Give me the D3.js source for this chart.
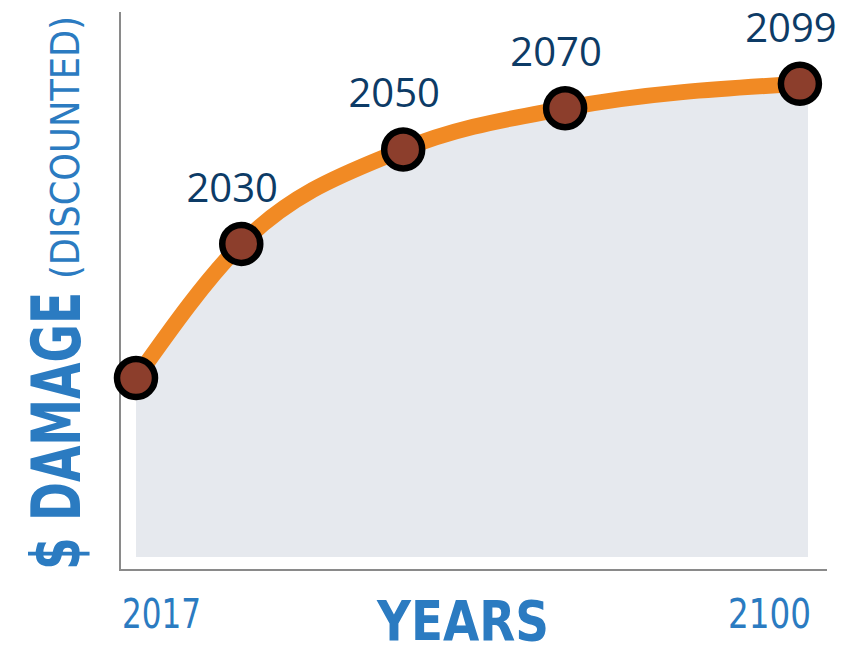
<!DOCTYPE html>
<html>
<head>
<meta charset="utf-8">
<script src="https://cdn.jsdelivr.net/npm/d3@7"></script>
<style>
  html, body { margin: 0; padding: 0; background: #ffffff; }
  svg { display: block; }
</style>
</head>
<body>
<svg id="chart" width="859" height="654"></svg>
<script>
// Milestone years and relative discounted damage (index units)
const years = [2017, 2030, 2050, 2070, 2099];
const damage = [36, 63, 82, 90.3, 95.2];
const labelledYears = ["2030", "2050", "2070", "2099"];
const xTickLabels = ["2017", "2100"];
const xDomain = [2017, 2100];

const svg = d3.select("#chart");

const x = d3.scaleLinear().domain(xDomain).range([136, 808]);
const y = d3.scaleLinear().domain([0, 100]).range([557, 60]);

const points = years.map((yr, i) => ({ year: yr, value: damage[i] }));

// Shaded area under the curve, carried flat to the end of the range
const areaPts = points.concat([{ year: xDomain[1], value: damage[damage.length - 1] }]);
const area = d3.area()
  .x(d => x(d.year))
  .y0(y(0))
  .y1(d => y(d.value))
  .curve(d3.curveMonotoneX);

svg.append("path")
  .datum(areaPts)
  .attr("d", area)
  .attr("fill", "#e6e9ee");

// Axis lines
svg.append("line")
  .attr("x1", 120).attr("x2", 120)
  .attr("y1", 12).attr("y2", 571)
  .attr("stroke", "#8a8a8a").attr("stroke-width", 2);
svg.append("line")
  .attr("x1", 119).attr("x2", 827)
  .attr("y1", 570).attr("y2", 570)
  .attr("stroke", "#8a8a8a").attr("stroke-width", 2);

// Damage curve
const line = d3.line()
  .x(d => x(d.year))
  .y(d => y(d.value))
  .curve(d3.curveMonotoneX);

svg.append("path")
  .datum(points)
  .attr("d", line)
  .attr("fill", "none")
  .attr("stroke", "#f18a24")
  .attr("stroke-width", 16)
  .attr("stroke-linecap", "round");

// Markers
svg.selectAll("circle.pt")
  .data(points)
  .join("circle")
  .attr("class", "pt")
  .attr("cx", d => x(d.year))
  .attr("cy", d => y(d.value))
  .attr("r", 19)
  .attr("fill", "#8c3e2c")
  .attr("stroke", "#000000")
  .attr("stroke-width", 6.5);

// Year labels above the later markers
svg.selectAll("text.yr")
  .data(points.slice(1).map((p, i) => ({ ...p, label: labelledYears[i] })))
  .join("text")
  .attr("class", "yr")
  .attr("x", d => x(d.year) - 9)
  .attr("y", d => y(d.value) - 42)
  .attr("text-anchor", "middle")
  .attr("font-family", "'Open Sans', sans-serif")
  .attr("font-size", 40)
  .attr("fill", "#0d3b66")
  .text(d => d.label);

const blue = "#2b7bc1";
const narrow = "'DejaVu Sans Condensed', 'Liberation Sans Narrow', 'Liberation Sans', sans-serif";

// X-axis end labels and title
svg.append("text")
  .attr("x", 122).attr("y", 628)
  .attr("font-family", narrow).attr("font-size", 40)
  .attr("fill", blue)
  .attr("textLength", 79).attr("lengthAdjust", "spacingAndGlyphs")
  .text(xTickLabels[0]);
svg.append("text")
  .attr("x", 728).attr("y", 628)
  .attr("font-family", narrow).attr("font-size", 40)
  .attr("fill", blue)
  .attr("textLength", 83).attr("lengthAdjust", "spacingAndGlyphs")
  .text(xTickLabels[1]);
svg.append("text")
  .attr("x", 377).attr("y", 640)
  .attr("font-family", narrow).attr("font-size", 56).attr("font-weight", "bold")
  .attr("fill", blue)
  .attr("textLength", 172).attr("lengthAdjust", "spacingAndGlyphs")
  .text("YEARS");

// Y-axis title
svg.append("text")
  .attr("transform", "translate(80,570) rotate(-90)")
  .attr("font-family", narrow).attr("font-size", 68).attr("font-weight", "bold")
  .attr("fill", blue)
  .attr("textLength", 278).attr("lengthAdjust", "spacingAndGlyphs")
  .text("$ DAMAGE");
svg.append("text")
  .attr("transform", "translate(79,279) rotate(-90)")
  .attr("font-family", narrow).attr("font-size", 39)
  .attr("fill", blue)
  .attr("textLength", 263).attr("lengthAdjust", "spacingAndGlyphs")
  .text("(DISCOUNTED)");
</script>
</body>
</html>
